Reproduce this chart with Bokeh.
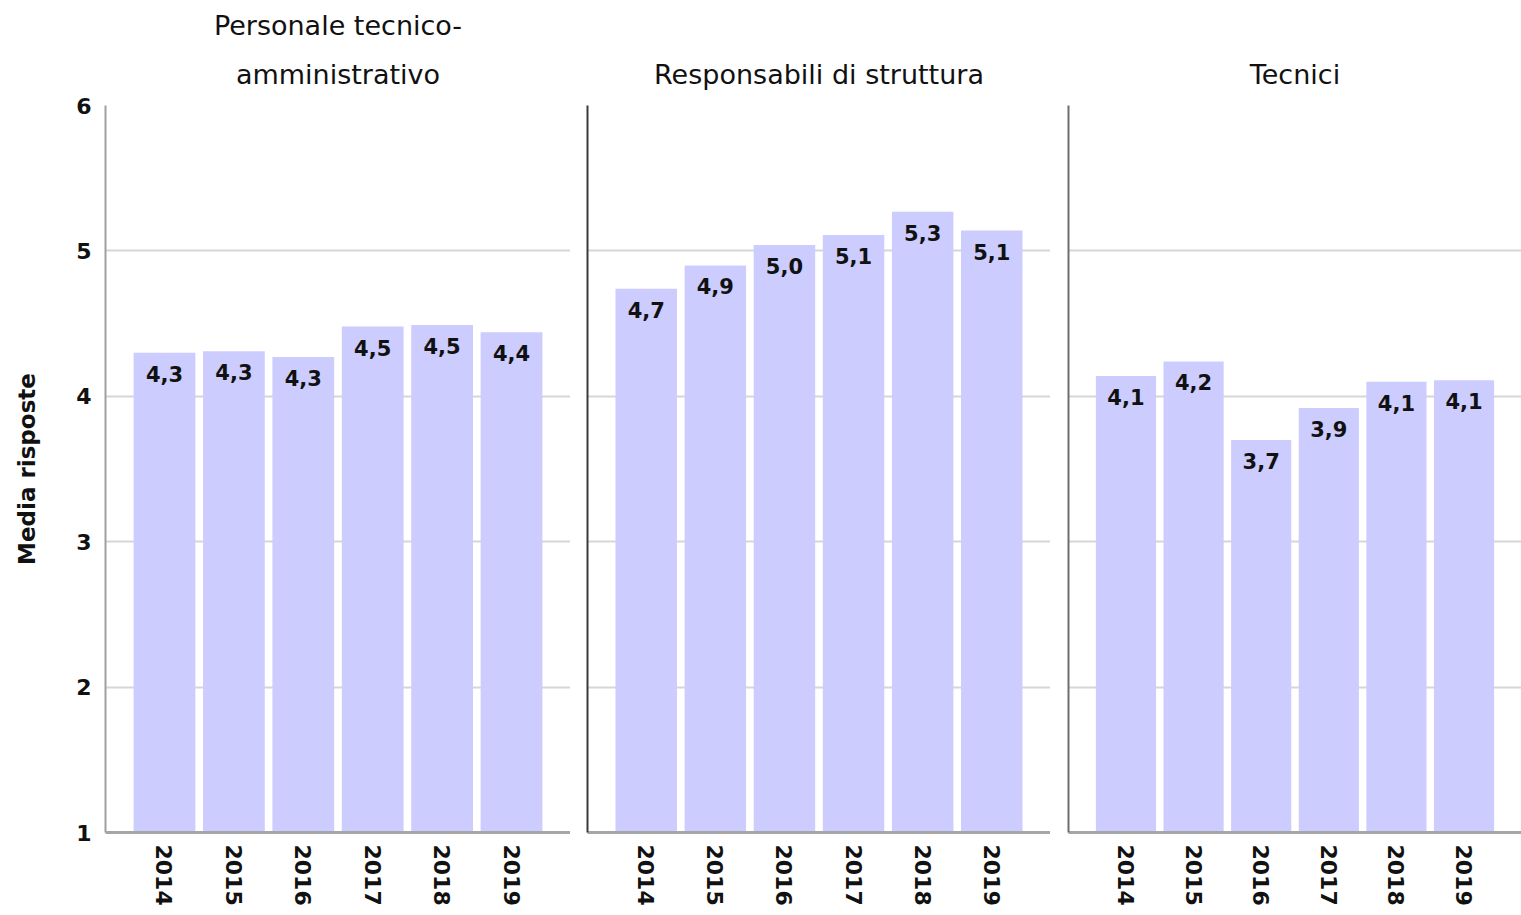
import math
from bokeh.plotting import figure
from bokeh.models import FactorRange, Range1d, ColumnDataSource, Title, FixedTicker
from bokeh.layouts import row
from bokeh.embed import file_html
from bokeh.resources import INLINE
from bokeh.core.properties import value

years = ["2014", "2015", "2016", "2017", "2018", "2019"]
panel_titles = [["amministrativo", "Personale tecnico-"], ["Responsabili di struttura"], ["Tecnici"]]
personale = [4.30, 4.31, 4.27, 4.48, 4.49, 4.44]
responsabili = [4.74, 4.90, 5.04, 5.11, 5.27, 5.14]
tecnici = [4.14, 4.24, 3.70, 3.92, 4.10, 4.11]
series = [personale, responsabili, tecnici]
y_ticks = [1, 2, 3, 4, 5, 6]
y_label = "Media risposte"

FONT = "DejaVu Sans"
BAR = "#ccccff"
frame_w = [465, 463, 453]
border_l = [105, 17, 18]
left_line = ["#a0a0a0", "#3a3a3a", "#6e6e6e"]

figs = []
for i in range(3):
    src = ColumnDataSource(dict(
        x=years, top=series[i],
        lab=[f"{v:.1f}".replace(".", ",") for v in series[i]],
    ))
    p = figure(
        x_range=FactorRange(*years, range_padding=0.35, range_padding_units="absolute"),
        y_range=Range1d(1, 6),
        width=border_l[i] + frame_w[i], height=915,
        min_border_left=border_l[i], min_border_right=0,
        min_border_top=105, min_border_bottom=83,
        output_backend="svg", toolbar_location=None, tools="",
    )
    p.outline_line_color = None
    p.title = None
    for k, line in enumerate(panel_titles[i]):
        p.add_layout(Title(text=line, align="center", vertical_align="bottom",
                           text_font=FONT,
                           text_font_size="27px", text_font_style="normal",
                           text_color="#111111", standoff=32 if k == 0 else 0), "above")
    p.vbar(x="x", top="top", bottom=1, width=0.89, source=src,
           fill_color=BAR, line_color=None)
    p.text(x="x", y="top", text="lab", source=src, text_align="center",
           text_baseline="top", y_offset=13, text_font=value(FONT),
           text_font_size="21px", text_font_style="bold", text_color="#111111")

    p.ygrid.ticker = y_ticks
    p.ygrid.grid_line_color = "#d6d6d6"
    p.ygrid.grid_line_width = 2
    p.xgrid.grid_line_color = None

    ya = p.yaxis[0]
    ya.axis_line_color = left_line[i]
    ya.axis_line_width = 2
    ya.major_tick_line_color = None
    ya.minor_tick_line_color = None
    ya.major_tick_out = 0
    ya.major_tick_in = 0
    ya.minor_tick_out = 0
    if i == 0:
        ya.ticker = y_ticks
        ya.axis_label = y_label
        ya.axis_label_text_font = FONT
        ya.axis_label_text_font_size = "23px"
        ya.axis_label_text_font_style = "bold"
        ya.axis_label_text_color = "#111111"
        ya.axis_label_standoff = 33
        ya.major_label_text_font = FONT
        ya.major_label_text_font_size = "22px"
        ya.major_label_text_font_style = "bold"
        ya.major_label_text_color = "#111111"
        ya.major_label_standoff = 14
    else:
        ya.ticker = FixedTicker(ticks=[], minor_ticks=[])
        ya.major_label_standoff = 0

    xa = p.xaxis[0]
    xa.axis_line_color = "#a6a6a6"
    xa.axis_line_width = 3
    xa.major_tick_line_color = None
    xa.minor_tick_line_color = None
    xa.major_tick_out = 0
    xa.major_tick_in = 0
    xa.major_label_orientation = -math.pi / 2
    xa.major_label_standoff = 12
    xa.major_label_text_font = FONT
    xa.major_label_text_font_size = "22px"
    xa.major_label_text_font_style = "bold"
    xa.major_label_text_color = "#111111"
    figs.append(p)

layout = row(*figs, spacing=0)
open("out.html", "w").write(file_html(layout, INLINE))
